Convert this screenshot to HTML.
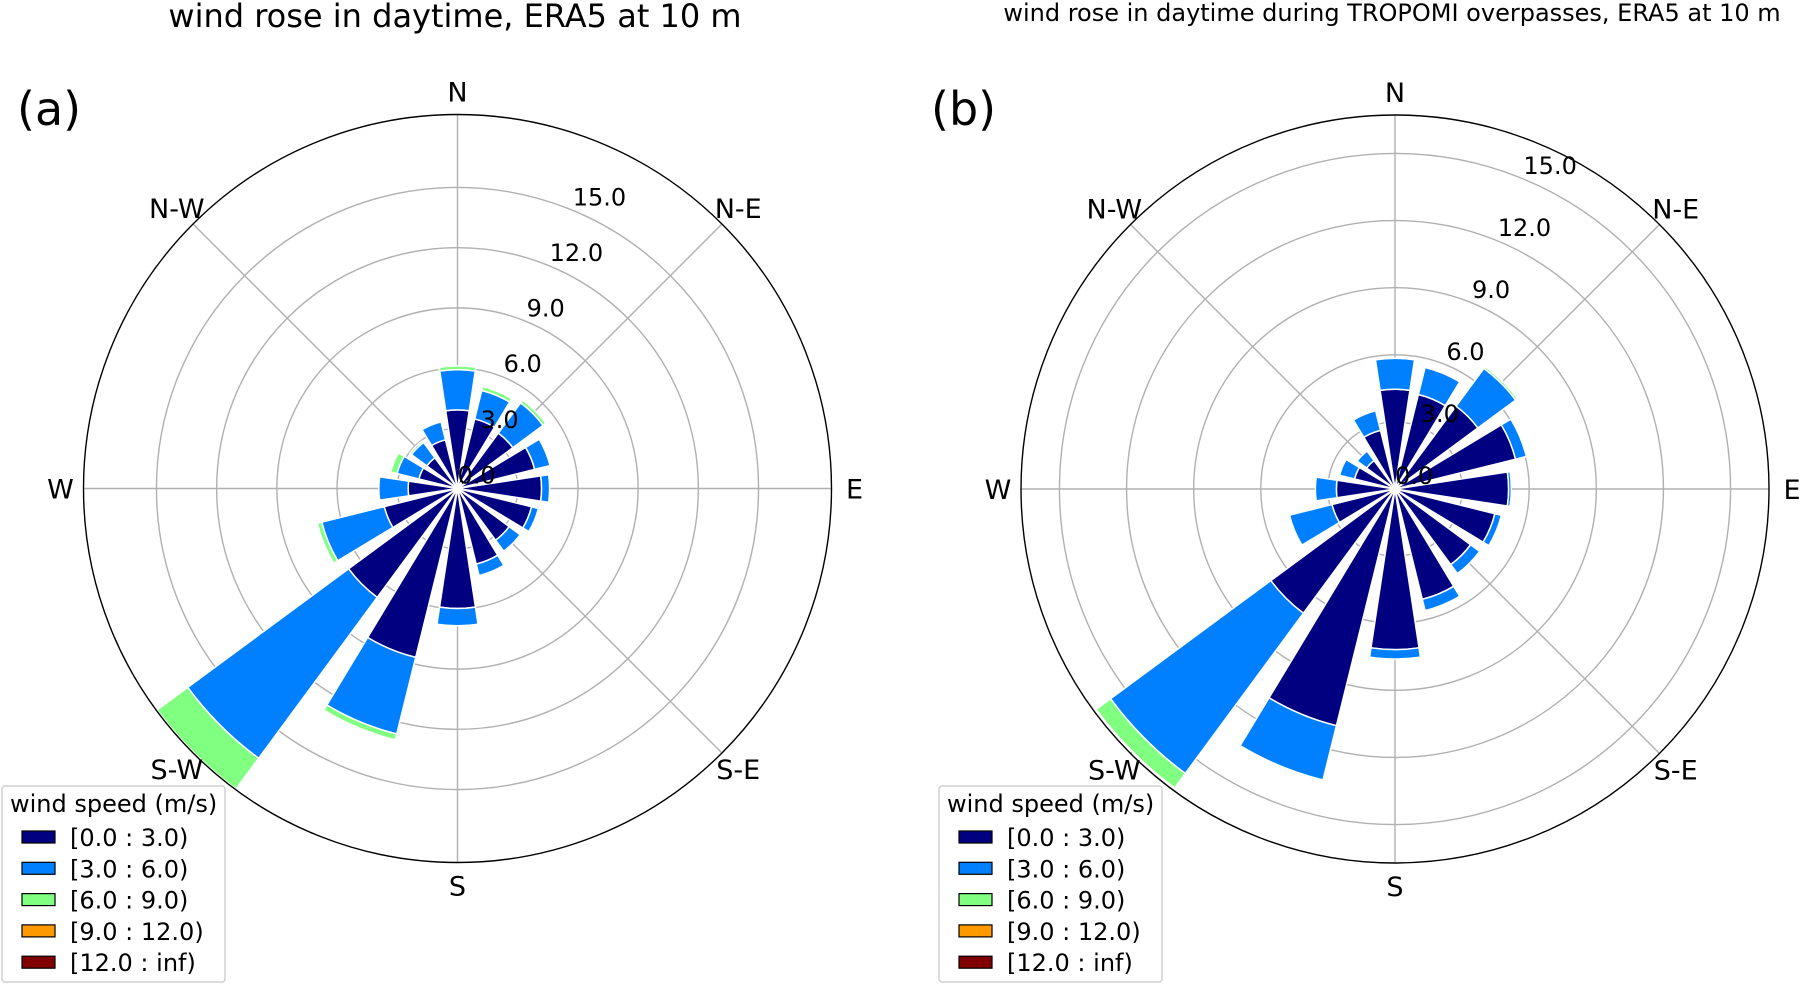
<!DOCTYPE html>
<html><head><meta charset="utf-8"><style>
html,body{margin:0;padding:0;background:#fff;}
svg{display:block;font-family:"DejaVu Sans","Liberation Sans",sans-serif;}
</style></head><body>
<svg id="fig" width="1800" height="984" viewBox="0 0 1800 984">
<text x="455" y="27" font-size="32" text-anchor="middle">wind rose in daytime, ERA5 at 10 m</text>
<text x="1392" y="21" font-size="24" text-anchor="middle">wind rose in daytime during TROPOMI overpasses, ERA5 at 10 m</text>
<text x="17" y="125" font-size="46">(a)</text>
<text x="931" y="125" font-size="46">(b)</text>
<g id="pa"></g>
<g id="pb"></g>
</svg>
<script>
const directions = ["N","NNE","NE","ENE","E","ESE","SE","SSE","S","SSW","SW","WSW","W","WNW","NW","NNW"];
const bins = ["[0.0 : 3.0)","[3.0 : 6.0)","[6.0 : 9.0)","[9.0 : 12.0)","[12.0 : inf)"];
const binColors = ["#000080","#0080ff","#80ff80","#ff9900","#800000"];
const radialTicks = [0,3,6,9,12,15];
const compassLabels = ["N","N-E","E","S-E","S","S-W","W","N-W"];
// cumulative frequency (%) per direction, per speed bin — panel a
const aBin1 = [3.92,3.57,3.43,3.96,4.19,3.80,3.20,3.88,5.98,8.67,6.74,3.76,2.46,1.98,1.90,2.50];
const aBin2 = [5.92,5.03,5.30,4.75,4.59,4.15,3.88,4.47,6.84,12.6,16.7,6.97,3.92,3.10,2.85,3.42];
const aBin3 = [6.11,5.23,5.47,4.75,4.59,4.15,3.88,4.47,6.84,12.9,18.6,7.20,3.92,3.43,2.95,3.42];
// panel b
const bBin1 = [4.46,4.35,4.60,5.55,5.08,4.60,4.20,5.08,7.18,10.9,6.90,2.90,2.62,1.86,1.58,2.70];
const bBin2 = [5.84,5.60,6.70,6.05,5.20,4.90,4.70,5.60,7.60,13.4,15.8,4.86,3.56,2.55,2.10,3.60];
const bBin3 = [5.84,5.65,6.80,6.05,5.20,4.90,4.70,5.60,7.60,13.4,16.6,4.86,3.56,2.55,2.10,3.60];

const NS="http://www.w3.org/2000/svg";
function mk(tag,attrs,parent){const e=document.createElementNS(NS,tag);for(const k in attrs)e.setAttribute(k,attrs[k]);parent.appendChild(e);return e;}

function drawRose(g,cx,cy,R,pxPerUnit,series,legendX){
  const rScale=v=>v*pxPerUnit;
  const pt=(r,degCW)=>{const a=degCW*Math.PI/180;return [cx+r*Math.sin(a),cy-r*Math.cos(a)];};
  radialTicks.slice(1).forEach(v=>{
    const c=mk('circle',{cx:cx,cy:cy,r:rScale(v),fill:'none',stroke:'#b0b0b0','stroke-width':1.4},g);
    
    
  });
  for(let i=0;i<8;i++){
    const [x,y]=pt(R,i*45);
    const l=mk('line',{x1:cx,y1:cy,x2:x,y2:y,stroke:'#b0b0b0','stroke-width':1.4},g);
    
    
  }
  const half=8.6;
  directions.forEach((d,i)=>{
    const ang=i*22.5;
    let prev=0;
    series.forEach((arr,k)=>{
      const v=arr[i];
      if(v<=prev+0.001){return;}
      const r0=rScale(prev),r1=rScale(v);
      const [x1,y1]=pt(r0,ang-half),[x2,y2]=pt(r1,ang-half),[x3,y3]=pt(r1,ang+half),[x4,y4]=pt(r0,ang+half);
      const p=mk('path',{d:`M${x1},${y1}L${x2},${y2}A${r1},${r1} 0 0 1 ${x3},${y3}L${x4},${y4}A${r0},${r0} 0 0 0 ${x1},${y1}Z`,fill:binColors[k],stroke:'#fff','stroke-width':1.5},g);
      
      
      prev=v;
    });
  });
  const oc=mk('circle',{cx:cx,cy:cy,r:R,fill:'none',stroke:'#000','stroke-width':1.4},g);
  
  
  radialTicks.forEach(v=>{
    const [x,y]=pt(rScale(v),22.5);
    const t=mk('text',{x:x,y:y-5,'font-size':24},g);
    t.textContent=v.toFixed(1);
    
    
  });
  compassLabels.forEach((lab,i)=>{
    const [x,y]=pt(R+23,i*45);
    const t=mk('text',{x:x,y:y+10,'font-size':27,'text-anchor':'middle'},g);
    t.textContent=lab;
    
    
  });
  const lg=mk('g',{},g);
  
  
  mk('rect',{x:legendX,y:786,width:223,height:196,rx:3,fill:'#fff','fill-opacity':0.85,stroke:'#d0d0d0','stroke-width':1.5},lg);
  const lt=mk('text',{x:legendX+8,y:812,'font-size':24},lg);
  lt.textContent='wind speed (m/s)';
  
  
  bins.forEach((b,k)=>{
    const yc=837+k*31.3;
    const r=mk('rect',{x:legendX+20,y:yc-6,width:33,height:12,fill:binColors[k],stroke:'#000','stroke-width':1.2},lg);
    
    
    const t=mk('text',{x:legendX+68,y:yc+9,'font-size':24},lg);
    t.textContent=b;
    
    
  });
}
drawRose(document.getElementById('pa'),457.5,488.5,374,20.07,[aBin1,aBin2,aBin3],2);
drawRose(document.getElementById('pb'),1395,489,374,22.37,[bBin1,bBin2,bBin3],939);
</script>
</body></html>
